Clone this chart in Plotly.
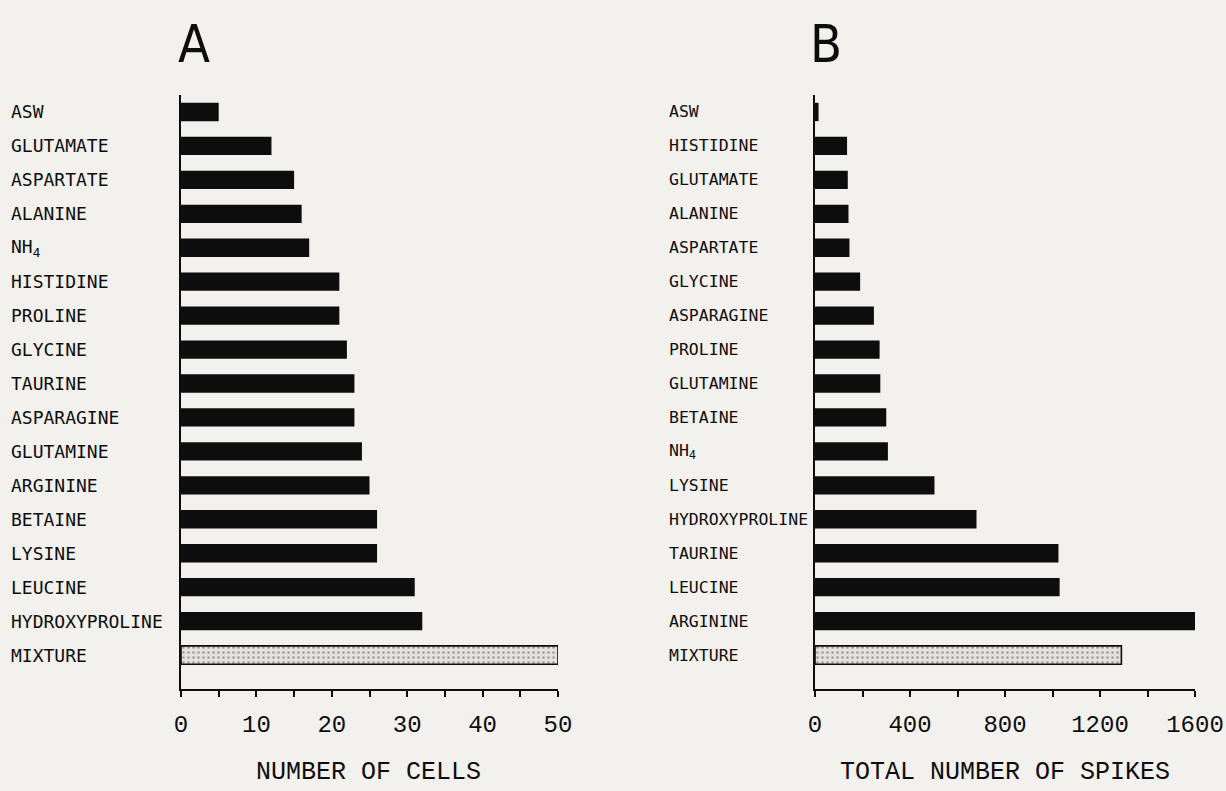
import plotly.graph_objects as go

# ---- data ----
cats_a = ["ASW", "GLUTAMATE", "ASPARTATE", "ALANINE", "NH4", "HISTIDINE", "PROLINE",
          "GLYCINE", "TAURINE", "ASPARAGINE", "GLUTAMINE", "ARGININE", "BETAINE",
          "LYSINE", "LEUCINE", "HYDROXYPROLINE", "MIXTURE"]
vals_a = [5, 12, 15, 16, 17, 21, 21, 22, 23, 23, 24, 25, 26, 26, 31, 32, 50]

cats_b = ["ASW", "HISTIDINE", "GLUTAMATE", "ALANINE", "ASPARTATE", "GLYCINE",
          "ASPARAGINE", "PROLINE", "GLUTAMINE", "BETAINE", "NH4", "LYSINE",
          "HYDROXYPROLINE", "TAURINE", "LEUCINE", "ARGININE", "MIXTURE"]
vals_b = [15, 135, 138, 141, 145, 190, 248, 272, 275, 300, 307, 503, 680, 1025, 1030, 1610, 1290]

label_text = {"NH4": "NH<sub>4</sub>"}

ticks_a = [0, 10, 20, 30, 40, 50]
minor_a = [5, 15, 25, 35, 45]
ticks_b = [0, 400, 800, 1200, 1600]
minor_b = [200, 600, 1000, 1400]

# ---- styling ----
W, H = 1226, 791
BG = "#f3f1ee"
INK = "#0d0d0d"
MONO = "DejaVu Sans Mono, Liberation Mono, monospace"
THIN = "Liberation Mono, DejaVu Sans Mono, monospace"
NARROW = "Liberation Sans Narrow, DejaVu Sans Condensed, sans-serif"

ydom = [1 - 689 / H, 1 - 95 / H]
xdom_a = [181 / W, 558 / W]
xdom_b = [815 / W, 1195 / W]

fig = go.Figure()


def add_panel(cats, vals, xa, ya):
    solid_c = [c for c in cats if c != "MIXTURE"]
    solid_v = [v for c, v in zip(cats, vals) if c != "MIXTURE"]
    fig.add_trace(go.Bar(y=solid_c, x=solid_v, orientation="h", xaxis=xa, yaxis=ya,
                         marker=dict(color=INK, line=dict(width=0)), showlegend=False))
    mix_v = [v for c, v in zip(cats, vals) if c == "MIXTURE"]
    fig.add_trace(go.Bar(y=["MIXTURE"], x=mix_v, orientation="h", xaxis=xa, yaxis=ya,
                         marker=dict(color="#e2e0dc",
                                     line=dict(color=INK, width=1.6),
                                     pattern=dict(shape=".", fgcolor="#555555",
                                                  bgcolor="#e4e2de", size=5, solidity=0.2)),
                         showlegend=False))


add_panel(cats_a, vals_a, "x", "y")
add_panel(cats_b, vals_b, "x2", "y2")

xcommon = dict(showgrid=False, zeroline=False, showline=True, linecolor=INK, linewidth=2,
               ticks="outside", ticklen=6, tickwidth=2, tickcolor=INK,
               tickfont=dict(family=THIN, size=24, color=INK), tickmode="array",
               ticklabelstandoff=6, automargin=False)
minor_common = dict(ticks="outside", ticklen=6, tickwidth=2, tickcolor=INK, showgrid=False,
                    tickmode="array")
ycommon = dict(showgrid=False, zeroline=False, showline=True, linecolor=INK, linewidth=2,
               showticklabels=False, ticks="", type="category", range=[17, -0.5],
               domain=ydom, automargin=False)

fig.update_layout(
    width=W, height=H, autosize=False,
    margin=dict(l=0, r=0, t=0, b=0, autoexpand=False),
    paper_bgcolor=BG, plot_bgcolor=BG,
    bargap=0.46, barmode="overlay",
    xaxis=dict(xcommon, domain=xdom_a, range=[0, 50], anchor="y",
               tickvals=ticks_a, minor=dict(minor_common, tickvals=minor_a)),
    yaxis=dict(ycommon, anchor="x", categoryarray=cats_a, categoryorder="array"),
    xaxis2=dict(xcommon, domain=xdom_b, range=[0, 1600], anchor="y2",
                tickvals=ticks_b, minor=dict(minor_common, tickvals=minor_b)),
    yaxis2=dict(ycommon, anchor="x2", categoryarray=cats_b, categoryorder="array"),
)

ann = []
for c in cats_a:
    ann.append(dict(xref="paper", yref="y", x=9 / W, y=c, text=label_text.get(c, c),
                    xanchor="left", yanchor="middle", showarrow=False,
                    font=dict(family=MONO, size=18, color=INK)))
for c in cats_b:
    ann.append(dict(xref="paper", yref="y2", x=667 / W, y=c, text=label_text.get(c, c),
                    xanchor="left", yanchor="middle", showarrow=False,
                    font=dict(family=MONO, size=16.5, color=INK)))

ann.append(dict(xref="paper", yref="paper", x=194 / W, y=1 - 44 / H, text="A",
                showarrow=False, xanchor="center", yanchor="middle",
                font=dict(family=NARROW, size=52, color=INK)))
ann.append(dict(xref="paper", yref="paper", x=826 / W, y=1 - 44 / H, text="B",
                showarrow=False, xanchor="center", yanchor="middle",
                font=dict(family=NARROW, size=52, color=INK)))
ann.append(dict(xref="paper", yref="paper", x=368 / W, y=1 - 772 / H, text="NUMBER OF CELLS",
                showarrow=False, xanchor="center", yanchor="middle",
                font=dict(family=THIN, size=25, color=INK)))
ann.append(dict(xref="paper", yref="paper", x=1005 / W, y=1 - 772 / H,
                text="TOTAL NUMBER OF SPIKES",
                showarrow=False, xanchor="center", yanchor="middle",
                font=dict(family=THIN, size=25, color=INK)))

fig.update_layout(annotations=ann)
fig.write_html("out.html",
               config={"responsive": False, "displayModeBar": False},
               post_script="document.body.style.margin='0';"
                           "document.body.style.background='" + BG + "';"
                           "document.body.style.overflow='hidden';")
